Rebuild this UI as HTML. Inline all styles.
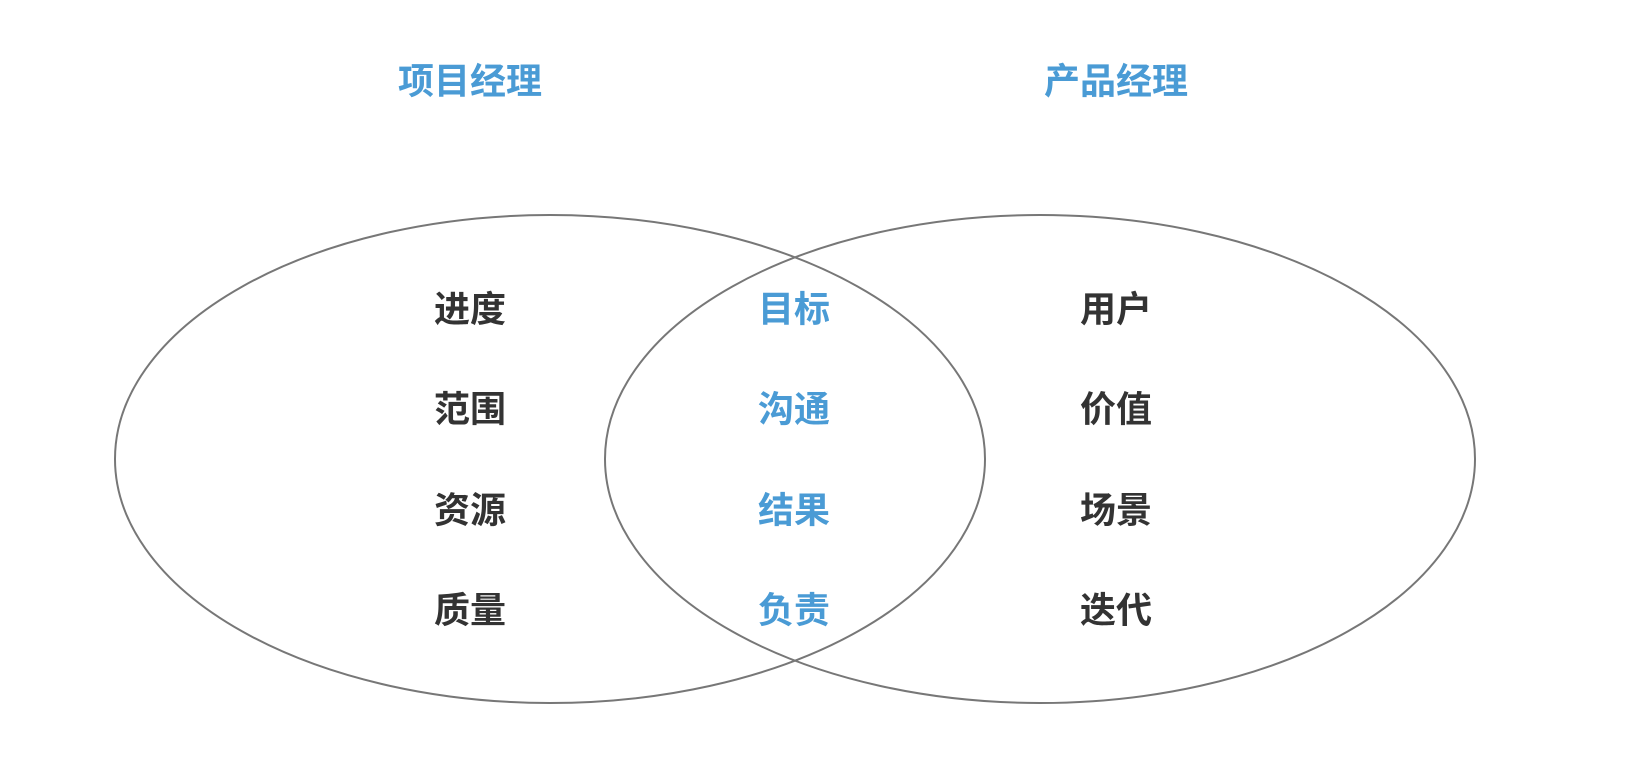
<!DOCTYPE html>
<html><head><meta charset="utf-8"><style>
html,body{margin:0;padding:0;background:#fff;width:1638px;height:780px;overflow:hidden}
svg text{font-family:"Liberation Sans","Noto Sans CJK SC",sans-serif;font-weight:bold;font-size:36px;text-anchor:middle;dominant-baseline:central}
.b{fill:#4a9bd5}.d{fill:#333}
</style></head><body>
<svg width="1638" height="780" viewBox="0 0 1638 780">
<ellipse cx="550" cy="459" rx="435" ry="244" fill="none" stroke="#777" stroke-width="2"/>
<ellipse cx="1040" cy="459" rx="435" ry="244" fill="none" stroke="#777" stroke-width="2"/>
<text class="b" x="470" y="81">项目经理</text>
<text class="b" x="1116" y="81">产品经理</text>
<text class="d" x="470" y="309">进度</text>
<text class="d" x="470" y="409">范围</text>
<text class="d" x="470" y="510">资源</text>
<text class="d" x="470" y="610">质量</text>
<text class="b" x="794" y="309">目标</text>
<text class="b" x="794" y="409">沟通</text>
<text class="b" x="794" y="510">结果</text>
<text class="b" x="794" y="610">负责</text>
<text class="d" x="1116" y="309">用户</text>
<text class="d" x="1116" y="409">价值</text>
<text class="d" x="1116" y="510">场景</text>
<text class="d" x="1116" y="610">迭代</text>
</svg>
</body></html>
